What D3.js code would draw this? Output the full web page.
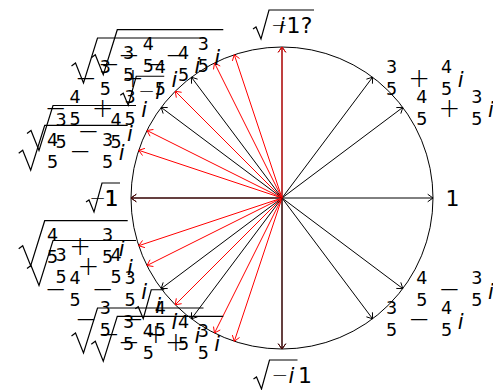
<!DOCTYPE html>
<html>
<head>
<meta charset="utf-8">
<script src="https://cdn.jsdelivr.net/npm/d3@7/dist/d3.min.js"></script>
<style>
  body { margin: 0; background: #fff; }
  svg { display: block; }
</style>
</head>
<body>
<svg id="chart" width="493" height="390"></svg>
<script>
// Points z on the unit circle (black arrows) and their labels
const blackRe = [1, 0.8, 0.6, 0, -0.6, -0.8, -1, -0.8, -0.6, 0, 0.6, 0.8];
const blackIm = [0, 0.6, 0.8, 1, 0.8, 0.6, 0, -0.6, -0.8, -1, -0.8, -0.6];
const blackLabels = ["1", "4/5+3/5i", "3/5+4/5i", "i", "-3/5+4/5i", "-4/5+3/5i",
                     "-1", "-4/5-3/5i", "-3/5-4/5i", "", "3/5-4/5i", "4/5-3/5i"];

// Square roots (red arrows) and their labels
const redRe = [0, -0.316, -0.447, -0.707, -0.894, -0.949, -1, -0.949, -0.894, -0.707, -0.447, -0.316, 0];
const redIm = [1, 0.949, 0.894, 0.707, 0.447, 0.316, 0, -0.316, -0.447, -0.707, -0.894, -0.949, -1];
const redLabels = ["√(-1?)", "√(-4/5-3/5i)", "√(-3/5-4/5i)", "√(-i)", "√(3/5-4/5i)", "√(4/5-3/5i)",
                   "√(1)", "√(4/5+3/5i)", "√(3/5+4/5i)", "√(i)", "√(-3/5+4/5i)", "√(-4/5+3/5i)", "√(-i)1"];

// red arrows that sit on top of a black one are drawn in the blended tone
const blendedRed = [6, 12];

const svg = d3.select("#chart");
const cx = 282, cy = 198, R = 151;
const x = d3.scaleLinear().domain([-1, 1]).range([cx - R, cx + R]);
const y = d3.scaleLinear().domain([-1, 1]).range([cy + R, cy - R]);

const RED = "#ff0000";
const DARK = d3.interpolateRgb("#ff0000", "#000000")(0.7);
const FONT = "DejaVu Sans";

// unit circle
svg.append("circle")
  .attr("cx", x(0)).attr("cy", y(0)).attr("r", x(1) - x(0))
  .attr("fill", "none").attr("stroke", "#000").attr("stroke-width", 1);

function arrowPath(re, im) {
  const x0 = x(0), y0 = y(0), x1 = x(re), y1 = y(im);
  const a = Math.atan2(y1 - y0, x1 - x0);
  const L = 6.5, s = 0.62;
  const hx1 = x1 - L * Math.cos(a - s), hy1 = y1 - L * Math.sin(a - s);
  const hx2 = x1 - L * Math.cos(a + s), hy2 = y1 - L * Math.sin(a + s);
  return `M${x0},${y0}L${x1},${y1}M${hx1},${hy1}L${x1},${y1}L${hx2},${hy2}`;
}

const black = blackRe.map((re, k) => ({ re, im: blackIm[k], label: blackLabels[k] }));
const red = redRe.map((re, k) => ({ re, im: redIm[k], label: redLabels[k], k }));

svg.append("g").selectAll("path").data(black).join("path")
  .attr("d", d => arrowPath(d.re, d.im))
  .attr("fill", "none").attr("stroke", "#000").attr("stroke-width", 1);

svg.append("g").selectAll("path").data(red).join("path")
  .attr("d", d => arrowPath(d.re, d.im))
  .attr("fill", "none")
  .attr("stroke", d => blendedRed.includes(d.k) ? DARK : RED)
  .attr("stroke-width", 1);

// ---- small math-label typesetter ----
function parse(str) {
  const out = [];
  let i = 0;
  while (i < str.length) {
    const c = str[i];
    if (c === "√") {
      let depth = 0, j = i + 1;
      for (; j < str.length; j++) {
        if (str[j] === "(") depth++;
        else if (str[j] === ")") { depth--; if (!depth) break; }
      }
      out.push({ type: "sqrt", body: parse(str.slice(i + 2, j)) });
      i = j + 1;
    } else if (/\d/.test(c) && str[i + 1] === "/") {
      out.push({ type: "frac", n: c, d: str[i + 2] });
      i += 3;
    } else if (c === "+" || c === "-") {
      out.push({ type: out.length ? "bin" : "neg", s: c === "-" ? "−" : "+" });
      i++;
    } else if (c === "i") {
      out.push({ type: "i" });
      i++;
    } else {
      out.push({ type: "char", s: c });
      i++;
    }
  }
  return out;
}

function hasFrac(tokens) {
  return tokens.some(t => t.type === "frac" || (t.type === "sqrt" && hasFrac(t.body)));
}

const METRICS = {
  frac: { fracW: 10, binGap: 14, opW: 17, negW: 17, negGap: 6, iGap: 6, iW: 6, charW: 11, charGap: 2,
          radW: 26, radGap: 3, opFont: 26, negFont: 26, iBase: 10 },
  plain: { fracW: 10, binGap: 8, opW: 13, negW: 13, negGap: 2, iGap: 1, iW: 6, charW: 11, charGap: 2,
           radW: 16, radGap: 4, opFont: 20, negFont: 20, iBase: 8 }
};

// lays tokens out left to right; returns the x where the ink ends
function layout(tokens, m, items, x0) {
  let xc = x0, pend = 0, first = true;
  for (const t of tokens) {
    let gap = first ? 0 : pend;
    if (t.type === "i" && !first) gap = Math.max(gap, m.iGap);
    if (t.type === "char" && !first) gap = Math.max(gap, m.charGap);
    if (t.type === "bin") gap = m.binGap;
    xc += gap;
    if (t.type === "frac") {
      items.push({ kind: "num", s: t.n, x: xc + m.fracW / 2 });
      items.push({ kind: "den", s: t.d, x: xc + m.fracW / 2 });
      xc += m.fracW;
      pend = m.charGap;
    } else if (t.type === "bin") {
      items.push({ kind: "op", s: t.s, x: xc + m.opW / 2, font: m.opFont });
      xc += m.opW;
      pend = m.binGap;
    } else if (t.type === "neg") {
      items.push({ kind: "op", s: t.s, x: xc + m.negW / 2, font: m.negFont });
      xc += m.negW;
      pend = m.negGap;
    } else if (t.type === "i") {
      items.push({ kind: "i", s: "i", x: xc + m.iW / 2 });
      xc += m.iW;
      pend = m.charGap;
    } else if (t.type === "char") {
      items.push({ kind: "char", s: t.s, x: xc + m.charW / 2 });
      xc += (t.s === "?" ? 10 : m.charW);
      pend = m.charGap;
    } else if (t.type === "sqrt") {
      const start = xc;
      const end = layout(t.body, m, items, xc + m.radW + m.radGap);
      items.push({ kind: "rad", x0: start, x1: end + 3 });
      xc = end;
      pend = 5;
    }
    first = false;
  }
  return xc;
}

function drawLabel(text, re, im) {
  if (!text) return;
  const tokens = parse(text);
  const frac = hasFrac(tokens);
  const m = frac ? METRICS.frac : METRICS.plain;
  const items = [];
  const width = layout(tokens, m, items, 0);
  const tx = x(re), ty = y(im);
  let left, mid;
  if (Math.abs(re) < 0.01) {
    left = tx - width / 2;
    mid = im > 0 ? ty - 22 : ty + 26;
  } else if (re > 0) {
    left = tx + 14; mid = ty;
  } else {
    left = tx - 14 - width; mid = ty;
  }
  const g = svg.append("g").attr("transform", `translate(${left},${mid})`)
    .attr("font-family", FONT).attr("fill", "#000");
  for (const it of items) {
    if (it.kind === "rad") {
      const top = frac ? -25 : -15, bot = frac ? 20 : 14;
      const w = m.radW;
      const p = frac
        ? `M${it.x0},3L${it.x0 + 4},0L${it.x0 + 12},${bot}L${it.x0 + w},${top}H${it.x1}`
        : `M${it.x0},4L${it.x0 + 3},2L${it.x0 + 8},${bot}L${it.x0 + w},${top}H${it.x1}`;
      g.append("path").attr("d", p).attr("fill", "none")
        .attr("stroke", "#000").attr("stroke-width", 1.2).attr("stroke-linejoin", "miter");
      continue;
    }
    const t = g.append("text").attr("x", it.x).attr("text-anchor", "middle").text(it.s);
    if (it.kind === "num") t.attr("y", -4.5).attr("font-size", 17.5);
    else if (it.kind === "den") t.attr("y", 17.5).attr("font-size", 17.5);
    else if (it.kind === "op") t.attr("y", (frac ? 1.5 : 1) + 0.31 * it.font)
      .attr("font-size", it.font).attr("font-weight", 200);
    else if (it.kind === "i") t.attr("y", m.iBase).attr("font-size", 21).attr("font-style", "italic");
    else t.attr("y", 8).attr("font-size", 22);
  }
}

black.forEach(d => drawLabel(d.label, d.re, d.im));
red.forEach(d => drawLabel(d.label, d.re, d.im));
</script>
</body>
</html>
